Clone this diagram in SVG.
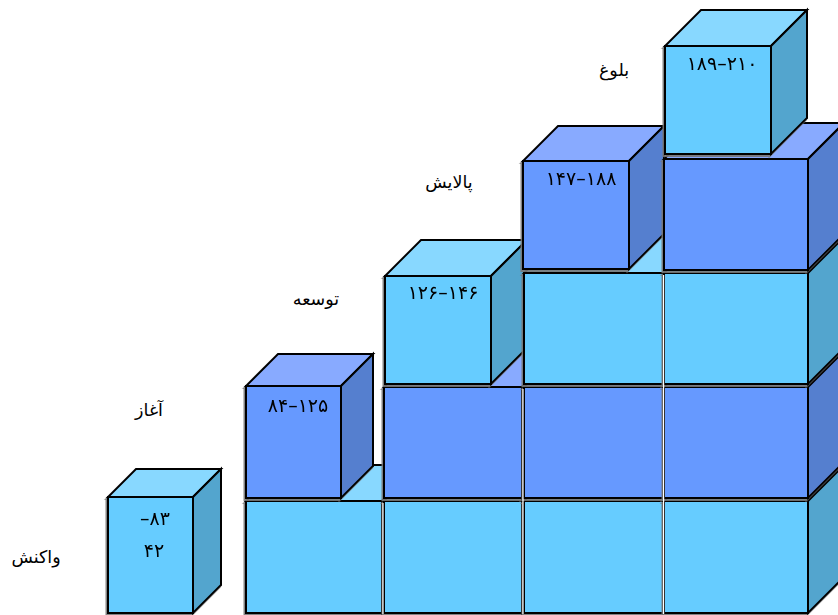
<svg xmlns="http://www.w3.org/2000/svg" width="838" height="615" viewBox="0 0 838 615">
<defs>
<style>
.e{stroke:#000;stroke-width:2;stroke-linejoin:miter}
.lf{fill:#66CCFF}.lt{fill:#88D8FF}.ls{fill:#52A5CE}
.bf{fill:#6699FF}.bt{fill:#88AAFF}.bs{fill:#557FCF}
.sh{filter:url(#ds)}
.gap{stroke:#fff;stroke-width:1.2}
.num{font-family:"DejaVu Sans",sans-serif;font-size:19px;fill:#000;text-anchor:middle}
.lab{font-family:"DejaVu Sans",sans-serif;font-size:17.5px;fill:#000;text-anchor:middle}
</style>
<filter id="ds" x="-10%" y="-10%" width="120%" height="120%">
<feDropShadow dx="-1.5" dy="2" stdDeviation="0.4" flood-color="#777" flood-opacity="0.9"/>
</filter>
</defs>
<rect width="838" height="615" fill="#fff"/>

<g id="cube-react" class="sh">
<polygon class="e lt" points="108,497 193,497 221,469 136,469"/>
<polygon class="e ls" points="193,497 221,469 221,585 193,613"/>
<rect class="e lf" x="108" y="497" width="85" height="116"/>
<text class="num" x="155" y="525">–۸۳</text>
<text class="num" x="154" y="557">۴۲</text>
</g>

<g id="grid-r1c1" class="sh">
<polygon class="e lt" points="246,501 382,501 418,465 282,465"/>
<polygon class="e ls" points="382,501 418,465 418,577 382,613"/>
<rect class="e lf" x="246" y="501" width="136" height="112"/>
</g>

<g id="cube-start" class="sh">
<polygon class="e bt" points="246,386 341,386 373,354 278,354"/>
<polygon class="e bs" points="341,386 373,354 373,466 341,498"/>
<rect class="e bf" x="246" y="386" width="95" height="112"/>
<text class="num" x="298" y="412">۸۴–۱۲۵</text>
</g>

<g id="grid-r1c2" class="sh">
<polygon class="e lt" points="384,501 522,501 558,465 420,465"/>
<polygon class="e ls" points="522,501 558,465 558,577 522,613"/>
<rect class="e lf" x="384" y="501" width="138" height="112"/>
</g>
<g id="grid-r2c2" class="sh">
<polygon class="e bt" points="384,387 522,387 558,351 420,351"/>
<polygon class="e bs" points="522,387 558,351 558,462 522,498"/>
<rect class="e bf" x="384" y="387" width="138" height="111"/>
</g>

<g id="cube-develop" class="sh">
<polygon class="e lt" points="385,276 491,276 527,240 421,240"/>
<polygon class="e ls" points="491,276 527,240 527,348 491,384"/>
<rect class="e lf" x="385" y="276" width="106" height="108"/>
<text class="num" x="443" y="299">۱۲۶–۱۴۶</text>
</g>

<g id="grid-r1c3" class="sh">
<polygon class="e lt" points="524,501 663,501 699,465 560,465"/>
<polygon class="e ls" points="663,501 699,465 699,577 663,613"/>
<rect class="e lf" x="524" y="501" width="139" height="112"/>
</g>
<g id="grid-r2c3" class="sh">
<polygon class="e bt" points="524,387 663,387 699,351 560,351"/>
<polygon class="e bs" points="663,387 699,351 699,462 663,498"/>
<rect class="e bf" x="524" y="387" width="139" height="111"/>
</g>
<g id="grid-r3c3" class="sh">
<polygon class="e lt" points="524,273 663,273 699,237 560,237"/>
<polygon class="e ls" points="663,273 699,237 699,348 663,384"/>
<rect class="e lf" x="524" y="273" width="139" height="111"/>
</g>

<g id="cube-refine" class="sh">
<polygon class="e bt" points="523,161 629,161 664,126 558,126"/>
<polygon class="e bs" points="629,161 664,126 664,234 629,269"/>
<rect class="e bf" x="523" y="161" width="106" height="108"/>
<text class="num" x="581" y="185">۱۴۷–۱۸۸</text>
</g>

<g id="grid-r1c4" class="sh">
<polygon class="e lt" points="664,501 808,501 844,465 700,465"/>
<polygon class="e ls" points="808,501 844,465 844,577 808,613"/>
<rect class="e lf" x="664" y="501" width="144" height="112"/>
</g>
<g id="grid-r2c4" class="sh">
<polygon class="e bt" points="664,387 808,387 844,351 700,351"/>
<polygon class="e bs" points="808,387 844,351 844,462 808,498"/>
<rect class="e bf" x="664" y="387" width="144" height="111"/>
</g>
<g id="grid-r3c4" class="sh">
<polygon class="e lt" points="664,273 808,273 844,237 700,237"/>
<polygon class="e ls" points="808,273 844,237 844,348 808,384"/>
<rect class="e lf" x="664" y="273" width="144" height="111"/>
</g>
<g id="grid-r4c4" class="sh">
<polygon class="e bt" points="664,159 808,159 844,123 700,123"/>
<polygon class="e bs" points="808,159 844,123 844,234 808,270"/>
<rect class="e bf" x="664" y="159" width="144" height="111"/>
</g>

<g id="gaps">
<line class="gap" x1="383" y1="503" x2="383" y2="614"/>
<line class="gap" x1="523" y1="389" x2="523" y2="614"/>
<line class="gap" x1="663.6" y1="275" x2="663.6" y2="614"/>
</g>

<g id="cube-mature" class="sh">
<polygon class="e lt" points="665,46 771,46 807,10 701,10"/>
<polygon class="e ls" points="771,46 807,10 807,118 771,154"/>
<rect class="e lf" x="665" y="46" width="106" height="108"/>
<text class="num" x="722" y="70">۱۸۹–۲۱۰</text>
</g>

<g id="labels">
<text class="lab" x="36" y="563">واکنش</text>
<text class="lab" x="149" y="416">آغاز</text>
<text class="lab" x="316" y="305">توسعه</text>
<text class="lab" x="449" y="188">پالایش</text>
<text class="lab" x="614" y="76">بلوغ</text>
</g>
<g id="connectors"></g>
</svg>
